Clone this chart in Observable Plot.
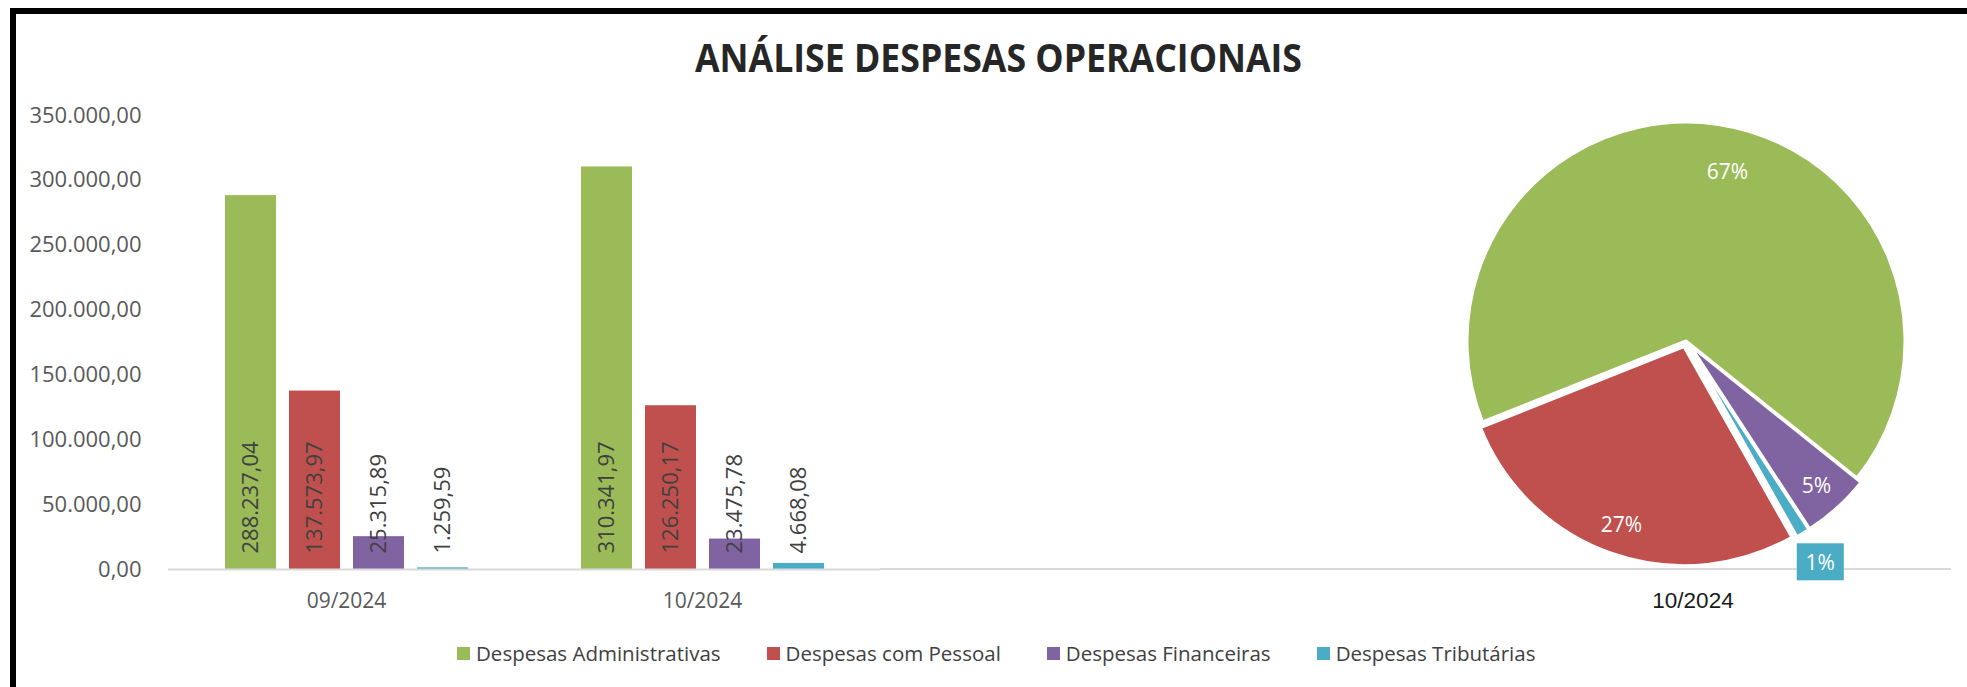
<!DOCTYPE html>
<html>
<head>
<meta charset="utf-8">
<script src="https://cdn.jsdelivr.net/npm/d3@7"></script>
<script src="https://cdn.jsdelivr.net/npm/@observablehq/plot@0.6"></script>
<style>
  html, body { margin: 0; padding: 0; background: #fff; }
  #wrap { position: relative; width: 1967px; height: 687px; overflow: hidden; background: #fff; font-family: 'Open Sans', sans-serif; }
  #chart, #overlay { position: absolute; left: 0; top: 0; }
  #frame { position: absolute; left: 10px; top: 8px; width: 1957px; height: 679px; border-top: 6px solid #000; border-left: 6px solid #000; box-sizing: border-box; pointer-events: none; }
  #legend { position: absolute; left: 457px; top: 639px; display: flex; align-items: center; gap: 46px; font-size: 20.5px; color: #404040; white-space: nowrap; line-height: 28px; }
  .item { display: flex; align-items: center; gap: 6px; }
  .sw { width: 13px; height: 13px; display: inline-block; }
</style>
</head>
<body>
<div id="wrap">
  <div id="chart"></div>
  <svg id="overlay" width="1967" height="687"></svg>
  <div id="legend"></div>
  <div id="frame"></div>
</div>
<script>
// ---- data ----
const title = "ANÁLISE DESPESAS OPERACIONAIS";
const months = ["09/2024", "10/2024"];
const series = ["Despesas Administrativas", "Despesas com Pessoal", "Despesas Financeiras", "Despesas Tributárias"];
const colors = ["#9BBB59", "#C0504D", "#8064A2", "#4BACC6"];
const values0924 = [288237.04, 137573.97, 25315.89, 1259.59];
const values1024 = [310341.97, 126250.17, 23475.78, 4668.08];
const yTicks = [0, 50000, 100000, 150000, 200000, 250000, 300000, 350000];
const pieMonth = "10/2024";
const pieOrder = ["Despesas Financeiras", "Despesas Tributárias", "Despesas com Pessoal", "Despesas Administrativas"];
const pieStartDeg = 128.7;

// ---- formatting ----
const br = d3.formatLocale({decimal: ",", thousands: ".", grouping: [3], currency: ["R$ ", ""]});
const fmt = br.format(",.2f");

const byMonth = {"09/2024": values0924, "10/2024": values1024};
const data = months.flatMap(m => series.map((s, j) => ({month: m, series: s, value: byMonth[m][j]})));

// ---- bar chart (Plot) ----
const chart = Plot.plot({
  width: 1967,
  height: 687,
  marginTop: 115,
  marginBottom: 118,
  marginLeft: 167,
  marginRight: 16,
  style: {fontFamily: "'Open Sans', sans-serif", fontSize: "22px", color: "#595959", background: "transparent", overflow: "visible"},
  fx: {domain: months, range: [167, 880], padding: 0, label: null},
  x: {domain: series, paddingInner: 0.207, paddingOuter: 0.875, axis: null},
  y: {domain: [0, 350000], label: null},
  color: {domain: series, range: colors},
  marks: [
    Plot.barY(data, {fx: "month", x: "series", y: "value", fill: "series"}),
    Plot.ruleY([0], {stroke: "#d9d9d9", strokeWidth: 2}),
    Plot.text(data, {fx: "month", x: "series", y: () => 0, text: d => fmt(d.value), rotate: -90, textAnchor: "start", dy: -16, fill: "#404040", fontSize: 22}),
    Plot.axisY({ticks: yTicks, tickFormat: fmt, tickSize: 0, tickPadding: 27, fontSize: 22, label: null}),
    Plot.axisFx({anchor: "bottom", tickSize: 0, tickPadding: 24, fontSize: 21, label: null})
  ]
});
document.getElementById("chart").appendChild(chart);

// ---- overlay: title, pie, baseline extension ----
const svg = d3.select("#overlay");
const y0 = chart.scale("y").apply(0);
const fxRange = chart.scale("fx").range;

svg.append("line")
  .attr("x1", fxRange[1]).attr("x2", 1951)
  .attr("y1", y0).attr("y2", y0)
  .attr("stroke", "#d9d9d9").attr("stroke-width", 2);

svg.append("text")
  .attr("x", 998.5).attr("y", 72)
  .attr("text-anchor", "middle")
  .attr("font-family", "'Open Sans', sans-serif")
  .attr("font-weight", 700)
  .attr("font-size", 39)
  .attr("textLength", 607)
  .attr("lengthAdjust", "spacingAndGlyphs")
  .attr("fill", "#262626")
  .text(title);

const cx = 1686, cy = 341, r = 219;
const pieValues = byMonth[pieMonth];
const pieData = pieOrder.map(s => ({series: s, value: pieValues[series.indexOf(s)]}));
const total = d3.sum(pieData, d => d.value);
const start = pieStartDeg * Math.PI / 180;
const arcs = d3.pie().sort(null).value(d => d.value).startAngle(start).endAngle(start + 2 * Math.PI)(pieData);
const arc = d3.arc().innerRadius(0).outerRadius(r);
const colorOf = s => colors[series.indexOf(s)];
const g = svg.append("g").attr("transform", `translate(${cx},${cy})`);

arcs.forEach(a => {
  const mid = (a.startAngle + a.endAngle) / 2;
  const explode = a.data.series === series[0] ? 0 : 6;
  const ox = Math.sin(mid) * explode, oy = -Math.cos(mid) * explode;
  g.append("path")
    .attr("d", arc(a))
    .attr("fill", colorOf(a.data.series))
    .attr("stroke", "#fff").attr("stroke-width", 3).attr("stroke-linejoin", "round")
    .attr("transform", `translate(${ox},${oy})`);
});

arcs.forEach(a => {
  const mid = (a.startAngle + a.endAngle) / 2;
  const pct = a.data.value / total;
  const label = Math.round(pct * 100) + "%";
  const outside = pct < 0.02;
  const isMain = a.data.series === series[0];
  const rr = outside ? r * 1.18 : (isMain ? r * 0.8 : r * 0.86 + 6);
  const ang = isMain ? mid + 0.09 : mid;
  const lx = Math.sin(ang) * rr, ly = -Math.cos(ang) * rr;
  if (outside) {
    g.append("rect")
      .attr("x", lx - 23.5).attr("y", ly - 18.5)
      .attr("width", 47).attr("height", 37)
      .attr("fill", colorOf(a.data.series));
  }
  g.append("text")
    .attr("x", lx).attr("y", ly)
    .attr("text-anchor", "middle")
    .attr("dominant-baseline", "central")
    .attr("font-family", "'Open Sans', sans-serif")
    .attr("font-size", 21)
    .attr("fill", "#fff")
    .text(label);
});

svg.append("text")
  .attr("x", 1693).attr("y", 608)
  .attr("text-anchor", "middle")
  .attr("font-family", "'Liberation Sans', Arial, sans-serif")
  .attr("font-size", 22.5)
  .attr("fill", "#1a1a1a")
  .text(pieMonth);

// ---- legend ----
const legend = d3.select("#legend");
series.forEach((s, i) => {
  const it = legend.append("div").attr("class", "item");
  it.append("span").attr("class", "sw").style("background", colors[i]);
  it.append("span").text(s);
});
</script>
</body>
</html>
